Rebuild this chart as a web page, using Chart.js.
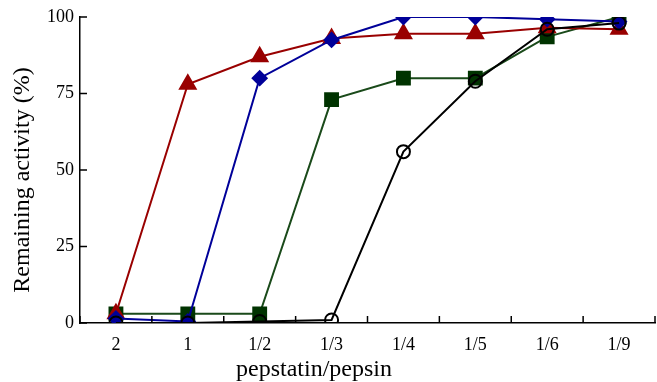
<!DOCTYPE html>
<html>
<head>
<meta charset="utf-8">
<script src="https://cdn.jsdelivr.net/npm/chart.js@4"></script>
<style>
  html, body { margin: 0; padding: 0; background: #fff; }
  #wrap { width: 657px; height: 382px; }
</style>
</head>
<body>
<div id="wrap"><canvas id="chart" width="657" height="382"></canvas></div>
<script>
const ratios = ['2', '1', '1/2', '1/3', '1/4', '1/5', '1/6', '1/9'];
const yTicks = [0, 25, 50, 75, 100];
const xTitle = 'pepstatin/pepsin';
const yTitle = 'Remaining activity (%)';

const redTriangles = [3, 78, 87, 93, 94.5, 94.5, 96.5, 96];
const blueDiamonds = [1.5, 0.5, 80, 92.5, 100, 100, 99.3, 98.5];
const greenSquares = [3, 3, 3, 73, 80, 80, 93.5, 100];
const blackCircles = [0, 0, 0.5, 1, 56, 79, 96, 98];

const serif = 'Liberation Serif, DejaVu Serif, serif';

// inward tick marks and the two axis titles, placed like the original figure
const axisDecor = {
    id: 'axisDecor',
    afterDraw(chart) {
        const ctx = chart.ctx;
        const x = chart.scales.x;
        const y = chart.scales.y;
        ctx.save();
        ctx.strokeStyle = '#000';
        ctx.lineWidth = 1.5;
        ctx.beginPath();
        yTicks.forEach(v => {
            const py = y.getPixelForValue(v);
            ctx.moveTo(x.left, py);
            ctx.lineTo(x.left + 7, py);
        });
        for (let i = 0; i <= ratios.length; i++) {
            const px = x.getPixelForValue(i - 0.5);
            ctx.moveTo(px, y.bottom);
            ctx.lineTo(px, y.bottom - 7);
        }
        ctx.stroke();

        ctx.fillStyle = '#000';
        ctx.font = '24px ' + serif;
        ctx.textAlign = 'center';
        ctx.textBaseline = 'alphabetic';
        ctx.fillText(xTitle, 314, 376);

        ctx.translate(29, 180);
        ctx.rotate(-Math.PI / 2);
        ctx.fillText(yTitle, 0, 0);
        ctx.restore();
    }
};

new Chart(document.getElementById('chart').getContext('2d'), {
    type: 'line',
    data: {
        labels: ratios,
        datasets: [
            {
                label: 'circles',
                data: blackCircles,
                borderColor: '#000000',
                borderWidth: 2,
                pointStyle: 'circle',
                pointRadius: 6.5,
                pointBorderWidth: 2,
                pointBackgroundColor: 'rgba(0,0,0,0)',
                pointBorderColor: '#000000'
            },
            {
                label: 'diamonds',
                data: blueDiamonds,
                borderColor: '#000099',
                borderWidth: 2,
                pointStyle: 'rectRot',
                pointRadius: 7,
                pointBackgroundColor: '#000099',
                pointBorderColor: '#000099'
            },
            {
                label: 'triangles',
                data: redTriangles,
                borderColor: '#990000',
                borderWidth: 2,
                pointStyle: 'triangle',
                pointRadius: 9,
                pointBackgroundColor: '#990000',
                pointBorderColor: '#990000'
            },
            {
                label: 'squares',
                data: greenSquares,
                borderColor: '#1a4a1a',
                borderWidth: 2,
                pointStyle: 'rect',
                pointRadius: 10.5,
                pointBorderWidth: 0,
                pointBackgroundColor: '#003300',
                pointBorderColor: '#003300'
            }
        ]
    },
    options: {
        responsive: false,
        animation: false,
        layout: { autoPadding: false, padding: { top: 17, right: 2, left: 0, bottom: 0 } },
        plugins: {
            legend: { display: false },
            tooltip: { enabled: false }
        },
        scales: {
            x: {
                offset: true,
                grid: { display: false, drawTicks: false, offset: true },
                border: { display: true, color: '#000', width: 1.5 },
                ticks: { color: '#000', font: { family: serif, size: 18 }, padding: 11 },
                afterFit(scale) { scale.height = 59; }
            },
            y: {
                min: 0,
                max: 100,
                afterBuildTicks(scale) { scale.ticks = yTicks.map(v => ({ value: v })); },
                grid: { display: false, drawTicks: false },
                border: { display: true, color: '#000', width: 1.5 },
                ticks: { color: '#000', font: { family: serif, size: 18 }, padding: 6 },
                afterFit(scale) { scale.width = 80; }
            }
        }
    },
    plugins: [axisDecor]
});
</script>
</body>
</html>
